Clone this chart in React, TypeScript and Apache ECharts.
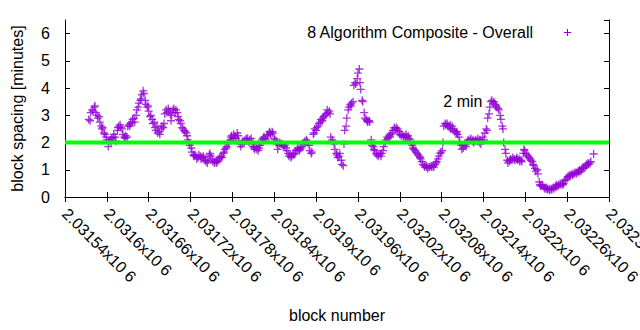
import React, { useEffect, useRef } from "react";
import * as echarts from "echarts";

const seriesName = "8 Algorithm Composite - Overall";
const xAxisName = "block number";
const yAxisName = "block spacing [minutes]";

// [block number, block spacing in minutes]
const spacingPoints: [number, number][] = [
  [2031574, 2.85], [2031576, 2.8], [2031577, 3.1], [2031579, 3.2], [2031580, 3.15], [2031582, 3.3], [2031583, 3.35], [2031584, 3.1], [2031586, 3.0], [2031587, 2.9],
  [2031589, 2.95], [2031590, 2.75], [2031592, 2.6], [2031593, 2.5], [2031594, 2.55], [2031596, 2.35], [2031597, 2.3], [2031599, 2.2], [2031600, 2.1], [2031602, 1.85],
  [2031603, 2.05], [2031605, 2.1], [2031606, 2.0], [2031607, 2.15], [2031609, 2.2], [2031610, 2.3], [2031612, 2.2], [2031613, 2.05], [2031615, 2.45], [2031616, 2.55],
  [2031617, 2.6], [2031619, 2.65], [2031620, 2.55], [2031622, 2.5], [2031623, 2.3], [2031625, 2.2], [2031626, 2.15], [2031627, 2.25], [2031629, 2.2], [2031630, 2.6],
  [2031632, 2.65], [2031633, 2.6], [2031634, 2.7], [2031636, 2.75], [2031637, 2.85], [2031639, 2.9], [2031640, 2.75], [2031642, 3.0], [2031643, 3.2], [2031645, 3.3],
  [2031646, 3.45], [2031648, 3.55], [2031649, 3.6], [2031650, 3.75], [2031652, 3.9], [2031653, 3.8], [2031655, 3.55], [2031656, 3.4], [2031658, 3.3], [2031659, 3.35],
  [2031660, 3.15], [2031662, 2.95], [2031663, 3.0], [2031665, 2.85], [2031666, 2.7], [2031668, 2.75], [2031669, 2.55], [2031670, 2.45], [2031672, 2.6], [2031673, 2.35],
  [2031675, 2.4], [2031676, 2.3], [2031678, 2.5], [2031679, 2.6], [2031681, 2.55], [2031682, 2.7], [2031683, 3.05], [2031685, 3.2], [2031686, 3.1], [2031688, 3.25],
  [2031689, 3.15], [2031691, 3.05], [2031692, 2.8], [2031693, 3.0], [2031695, 3.2], [2031696, 3.25], [2031698, 3.1], [2031699, 3.2], [2031701, 3.1], [2031702, 2.95],
  [2031703, 2.85], [2031705, 2.8], [2031706, 2.7], [2031708, 2.55], [2031709, 2.5], [2031711, 2.45], [2031712, 2.4], [2031714, 2.35], [2031715, 2.25], [2031716, 2.1],
  [2031718, 2.0], [2031719, 1.9], [2031721, 1.8], [2031722, 1.65], [2031724, 1.55], [2031725, 1.5], [2031726, 1.55], [2031728, 1.5], [2031729, 1.4], [2031731, 1.45],
  [2031732, 1.55], [2031734, 1.5], [2031735, 1.4], [2031736, 1.45], [2031738, 1.5], [2031739, 1.45], [2031741, 1.35], [2031742, 1.3], [2031744, 1.25], [2031745, 1.35],
  [2031747, 1.55], [2031748, 1.6], [2031749, 1.5], [2031751, 1.4], [2031752, 1.3], [2031754, 1.25], [2031755, 1.3], [2031757, 1.25], [2031758, 1.35], [2031759, 1.3],
  [2031761, 1.4], [2031762, 1.45], [2031764, 1.5], [2031765, 1.45], [2031767, 1.6], [2031768, 1.65], [2031769, 1.75], [2031771, 1.8], [2031772, 1.85], [2031774, 1.95],
  [2031775, 2.0], [2031777, 2.1], [2031778, 2.2], [2031779, 2.25], [2031781, 2.15], [2031782, 2.3], [2031784, 2.2], [2031785, 2.15], [2031787, 2.35], [2031788, 2.25],
  [2031789, 2.05], [2031791, 1.95], [2031792, 1.85], [2031794, 1.95], [2031795, 2.05], [2031797, 2.0], [2031798, 2.1], [2031800, 2.15], [2031801, 2.05], [2031802, 2.15],
  [2031804, 2.0], [2031805, 2.1], [2031807, 2.15], [2031808, 1.95], [2031810, 1.85], [2031811, 1.8], [2031812, 1.75], [2031814, 1.85], [2031815, 1.75], [2031817, 1.7],
  [2031818, 1.8], [2031820, 1.9], [2031821, 2.0], [2031822, 2.1], [2031824, 2.15], [2031825, 2.2], [2031827, 2.15], [2031828, 2.1], [2031830, 2.25], [2031831, 2.3],
  [2031833, 2.4], [2031834, 2.35], [2031835, 2.3], [2031837, 2.4], [2031838, 2.35], [2031840, 2.15], [2031841, 2.1], [2031843, 2.05], [2031844, 1.95], [2031845, 1.75],
  [2031847, 1.9], [2031848, 2.0], [2031850, 1.95], [2031851, 1.95], [2031853, 1.9], [2031854, 1.85], [2031855, 1.9], [2031857, 1.8], [2031858, 1.7], [2031860, 1.6],
  [2031861, 1.5], [2031863, 1.55], [2031864, 1.45], [2031865, 1.5], [2031867, 1.6], [2031868, 1.55], [2031870, 1.6], [2031871, 1.7], [2031873, 1.75], [2031874, 1.8],
  [2031876, 1.7], [2031877, 1.75], [2031878, 1.8], [2031880, 1.85], [2031881, 1.95], [2031883, 2.0], [2031884, 2.05], [2031886, 2.1], [2031887, 2.05], [2031888, 2.0],
  [2031890, 1.9], [2031891, 1.7], [2031893, 1.6], [2031894, 1.65], [2031896, 2.3], [2031897, 2.35], [2031898, 2.5], [2031900, 2.45], [2031901, 2.55], [2031903, 2.6],
  [2031904, 2.7], [2031906, 2.75], [2031907, 2.85], [2031909, 2.8], [2031910, 2.9], [2031911, 2.95], [2031913, 3.0], [2031914, 3.05], [2031916, 3.2], [2031917, 3.1],
  [2031919, 3.15], [2031920, 3.05], [2031921, 2.2], [2031923, 2.1], [2031924, 2.05], [2031926, 1.95], [2031927, 1.75], [2031929, 1.6], [2031930, 1.55], [2031931, 1.45],
  [2031933, 1.5], [2031934, 1.6], [2031936, 1.35], [2031937, 1.2], [2031939, 1.15], [2031940, 1.95], [2031941, 2.45], [2031943, 2.6], [2031944, 2.9], [2031946, 3.2],
  [2031947, 3.3], [2031949, 3.4], [2031950, 3.35], [2031951, 3.45], [2031953, 3.5], [2031954, 4.1], [2031956, 4.2], [2031957, 4.15], [2031959, 4.35], [2031960, 4.55],
  [2031962, 4.7], [2031963, 4.2], [2031964, 3.95], [2031966, 3.55], [2031967, 3.5], [2031969, 3.1], [2031970, 2.9], [2031972, 2.85], [2031973, 2.8], [2031974, 2.75],
  [2031976, 2.8], [2031977, 2.75], [2031979, 2.1], [2031980, 1.9], [2031982, 1.85], [2031983, 1.75], [2031984, 1.7], [2031986, 1.6], [2031987, 1.55], [2031989, 1.5],
  [2031990, 1.55], [2031992, 1.6], [2031993, 1.5], [2031994, 1.6], [2031996, 1.7], [2031997, 1.85], [2031999, 2.0], [2032000, 2.1], [2032002, 2.2], [2032003, 2.15],
  [2032005, 2.25], [2032006, 2.2], [2032007, 2.3], [2032009, 2.35], [2032010, 2.45], [2032012, 2.55], [2032013, 2.5], [2032015, 2.55], [2032016, 2.45], [2032017, 2.5],
  [2032019, 2.4], [2032020, 2.3], [2032022, 2.25], [2032023, 2.3], [2032025, 2.2], [2032026, 2.25], [2032028, 2.2], [2032029, 2.3], [2032030, 2.2], [2032032, 2.25],
  [2032033, 2.15], [2032035, 2.1], [2032036, 2.0], [2032038, 1.9], [2032039, 1.8], [2032040, 1.75], [2032042, 1.7], [2032043, 1.65], [2032045, 1.6], [2032046, 1.55],
  [2032048, 1.5], [2032049, 1.45], [2032050, 1.4], [2032052, 1.3], [2032053, 1.2], [2032055, 1.15], [2032056, 1.1], [2032058, 1.15], [2032059, 1.1], [2032060, 1.05],
  [2032062, 1.1], [2032063, 1.1], [2032065, 1.15], [2032066, 1.1], [2032068, 1.15], [2032069, 1.1], [2032071, 1.2], [2032072, 1.25], [2032073, 1.3], [2032075, 1.4],
  [2032076, 1.5], [2032078, 1.6], [2032079, 1.65], [2032081, 1.7], [2032082, 2.0], [2032083, 2.6], [2032085, 2.7], [2032086, 2.65], [2032088, 2.7], [2032089, 2.6],
  [2032091, 2.55], [2032092, 2.65], [2032093, 2.5], [2032095, 2.6], [2032096, 2.5], [2032098, 2.45], [2032099, 2.4], [2032101, 2.35], [2032102, 2.4], [2032103, 2.3],
  [2032105, 2.2], [2032106, 2.0], [2032108, 1.9], [2032109, 1.75], [2032111, 1.8], [2032112, 1.9], [2032114, 1.95], [2032115, 1.85], [2032116, 2.0], [2032118, 2.1],
  [2032119, 2.05], [2032121, 2.1], [2032122, 2.15], [2032124, 2.05], [2032125, 2.1], [2032126, 2.0], [2032128, 2.05], [2032129, 2.1], [2032131, 2.05], [2032132, 2.15],
  [2032134, 2.0], [2032135, 2.1], [2032136, 1.95], [2032138, 2.05], [2032139, 2.2], [2032141, 2.1], [2032142, 2.35], [2032144, 2.5], [2032145, 2.45], [2032146, 2.9],
  [2032148, 3.05], [2032149, 3.3], [2032151, 3.5], [2032152, 3.55], [2032154, 3.45], [2032155, 3.5], [2032157, 3.4], [2032158, 3.35], [2032159, 3.3], [2032161, 3.25],
  [2032162, 3.2], [2032164, 3.0], [2032165, 2.85], [2032167, 2.6], [2032168, 2.5], [2032169, 2.0], [2032171, 1.75], [2032172, 1.6], [2032174, 1.35], [2032175, 1.25],
  [2032177, 1.3], [2032178, 1.35], [2032179, 1.4], [2032181, 1.35], [2032182, 1.45], [2032184, 1.4], [2032185, 1.35], [2032187, 1.4], [2032188, 1.45], [2032189, 1.35],
  [2032191, 1.4], [2032192, 1.3], [2032194, 1.35], [2032195, 1.3], [2032197, 1.6], [2032198, 1.75], [2032199, 1.7], [2032201, 1.6], [2032202, 1.55], [2032204, 1.5],
  [2032205, 1.45], [2032207, 1.4], [2032208, 1.35], [2032210, 1.3], [2032211, 1.2], [2032212, 1.15], [2032214, 1.05], [2032215, 0.95], [2032217, 1.0], [2032218, 0.85],
  [2032220, 0.55], [2032221, 0.45], [2032222, 0.4], [2032224, 0.45], [2032225, 0.4], [2032227, 0.35], [2032228, 0.3], [2032230, 0.35], [2032231, 0.3], [2032232, 0.28],
  [2032234, 0.3], [2032235, 0.25], [2032237, 0.3], [2032238, 0.28], [2032240, 0.35], [2032241, 0.3], [2032243, 0.4], [2032244, 0.35], [2032245, 0.45], [2032247, 0.4],
  [2032248, 0.45], [2032250, 0.5], [2032251, 0.45], [2032253, 0.5], [2032254, 0.45], [2032255, 0.5], [2032257, 0.6], [2032258, 0.65], [2032260, 0.7], [2032261, 0.75],
  [2032263, 0.8], [2032264, 0.75], [2032265, 0.8], [2032267, 0.85], [2032268, 0.8], [2032270, 0.85], [2032271, 0.9], [2032273, 0.85], [2032274, 0.9], [2032276, 0.95],
  [2032277, 0.9], [2032278, 1.0], [2032280, 0.95], [2032281, 1.05], [2032283, 1.1], [2032284, 1.05], [2032286, 1.1], [2032287, 1.15], [2032288, 1.2], [2032290, 1.25],
  [2032291, 1.2], [2032293, 1.25], [2032294, 1.3], [2032298, 1.58],
];

// reference line at 2 minutes
const targetLine: [number, number][] = [
  [2031540, 2],
  [2032320, 2],
];
const annotationText = "2 min";
const annotationPoint: [number, number] = [2032140, 3.5];

const xMin = 2031540;
const xMax = 2032320;
const xStep = 60;
const yMin = 0;
const yMax = 6.5;
const yStep = 1;

const FONT = "Liberation Sans, Arial, sans-serif";
const PURPLE = "#9400d3";
const GREEN = "#00ff00";
const PLUS = "path://M0,5L10,5M5,0L5,10";

const fmtX = (v: number) => `${parseFloat((v / 1e6).toFixed(5))}x10 6`;

export default function App() {
  const ref = useRef<HTMLDivElement>(null);
  useEffect(() => {
    if (!ref.current) return;
    const chart = echarts.init(ref.current, null, { renderer: "svg" });
    const axisCommon = {
      axisLine: { show: true, lineStyle: { color: "#000", width: 1 } },
      splitLine: { show: false },
    };
    chart.setOption({
      animation: false,
      backgroundColor: "#fff",
      grid: {
        left: 65,
        right: 31,
        top: 20,
        bottom: 133,
        containLabel: false,
        outerBoundsMode: "none",
      },
      xAxis: [
        {
          type: "value",
          min: xMin,
          max: xMax,
          interval: xStep,
          position: "bottom",
          ...axisCommon,
          axisTick: { show: true, inside: true, length: 5, lineStyle: { color: "#000" } },
          axisLabel: {
            rotate: -45,
            margin: 14,
            fontSize: 16,
            fontFamily: FONT,
            color: "#000",
            formatter: fmtX,
          },
          name: xAxisName,
          nameLocation: "middle",
          nameGap: 110,
          nameTextStyle: { fontSize: 16, fontFamily: FONT, color: "#000" },
        },
        {
          type: "value",
          min: xMin,
          max: xMax,
          interval: xStep,
          position: "top",
          ...axisCommon,
          axisTick: { show: true, inside: true, length: 5, lineStyle: { color: "#000" } },
          axisLabel: { show: false },
        },
      ],
      yAxis: [
        {
          type: "value",
          min: yMin,
          max: yMax,
          interval: yStep,
          position: "left",
          ...axisCommon,
          axisTick: { show: true, inside: true, length: 5, lineStyle: { color: "#000" } },
          axisLabel: {
            margin: 15,
            fontSize: 16,
            fontFamily: FONT,
            color: "#000",
            showMaxLabel: false,
          },
          name: yAxisName,
          nameLocation: "middle",
          nameGap: 40,
          nameTextStyle: { fontSize: 16, fontFamily: FONT, color: "#000" },
        },
        {
          type: "value",
          min: yMin,
          max: yMax,
          interval: yStep,
          position: "right",
          ...axisCommon,
          axisTick: { show: true, inside: true, length: 5, lineStyle: { color: "#000" } },
          axisLabel: { show: false },
        },
      ],
      series: [
        {
          name: seriesName,
          type: "scatter",
          data: spacingPoints,
          symbol: PLUS,
          symbolSize: 8,
          itemStyle: { color: "transparent", borderColor: PURPLE, borderWidth: 1.3 },
          z: 2,
        },
        {
          name: "2 min",
          type: "line",
          data: targetLine,
          symbol: "none",
          lineStyle: { color: GREEN, width: 4 },
          z: 3,
          markPoint: {
            symbol: "circle",
            symbolSize: 0,
            data: [{ coord: annotationPoint, value: annotationText }],
            label: {
              show: true,
              position: "left",
              distance: 1,
              formatter: annotationText,
              fontSize: 16,
              fontFamily: FONT,
              color: "#000",
            },
          },
        },
      ],
      graphic: [
        {
          type: "text",
          x: 533,
          y: 32,
          style: {
            text: seriesName,
            fontSize: 16,
            fontFamily: FONT,
            fill: "#000",
            align: "right",
            verticalAlign: "middle",
          },
        },
        {
          type: "line",
          shape: { x1: 564, y1: 32.5, x2: 571, y2: 32.5 },
          style: { stroke: PURPLE, lineWidth: 1 },
        },
        {
          type: "line",
          shape: { x1: 567.5, y1: 29, x2: 567.5, y2: 36 },
          style: { stroke: PURPLE, lineWidth: 1 },
        },
      ],
    });
    return () => chart.dispose();
  }, []);
  return (
    <div
      ref={ref}
      style={{ position: "fixed", left: 0, top: 0, width: 640, height: 330 }}
    />
  );
}
